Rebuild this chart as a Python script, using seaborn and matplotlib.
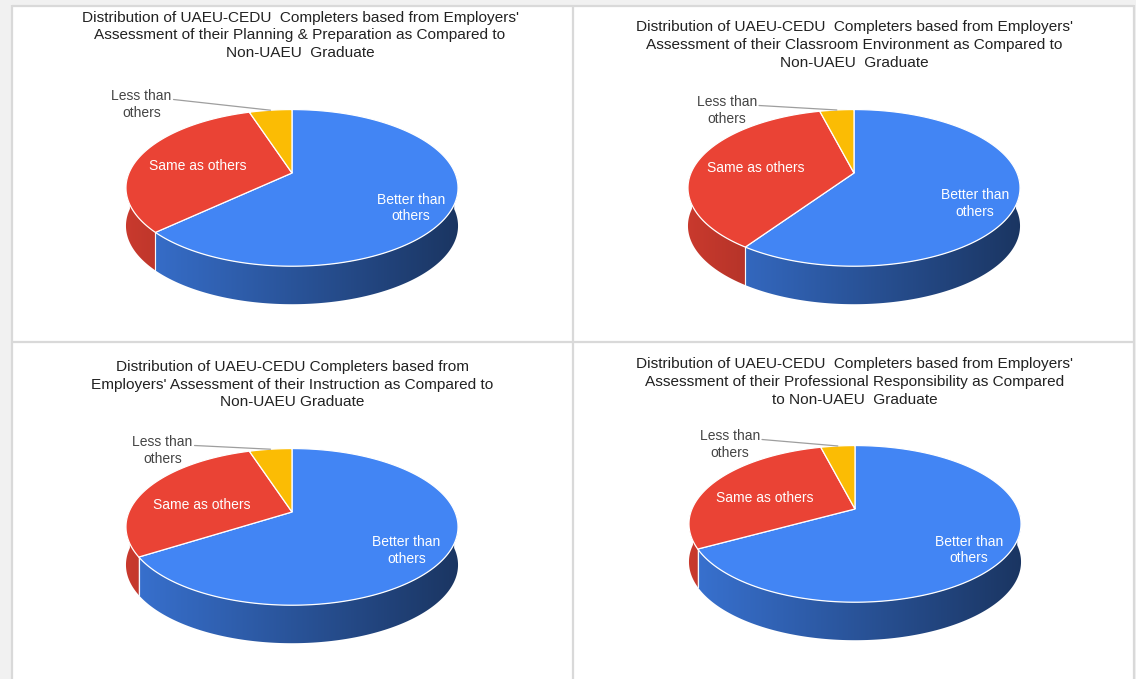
import numpy as np
import matplotlib
matplotlib.use("Agg")
import matplotlib.pyplot as plt
import matplotlib.transforms as mtransforms
from matplotlib.path import Path
from matplotlib.patches import Rectangle, Polygon
import seaborn as sns

# ---------------- data ----------------
categories = ["Better than others", "Same as others", "Less than others"]
label_texts = ["Better than\nothers", "Same as others", "Less than\nothers"]
planning = [63, 32, 5]
classroom = [59.5, 36.5, 4]
instruction = [66, 29, 5]
professional = [67, 29, 4]
titles = [
    "Distribution of UAEU-CEDU  Completers based from Employers'\nAssessment of their Planning & Preparation as Compared to\nNon-UAEU  Graduate",
    "Distribution of UAEU-CEDU  Completers based from Employers'\nAssessment of their Classroom Environment as Compared to\nNon-UAEU  Graduate",
    "Distribution of UAEU-CEDU Completers based from\nEmployers' Assessment of their Instruction as Compared to\nNon-UAEU Graduate",
    "Distribution of UAEU-CEDU  Completers based from Employers'\nAssessment of their Professional Responsibility as Compared\nto Non-UAEU  Graduate",
]
series = [planning, classroom, instruction, professional]

# ---------------- style ----------------
sns.set_theme(style="white")
plt.rcParams["font.family"] = ["Liberation Sans", "DejaVu Sans"]
colors = sns.color_palette(["#4285F4", "#EA4335", "#FBBC04"])

W, H = 1136, 679
fig = plt.figure(figsize=(W / 100, H / 100), dpi=100)
ax = fig.add_axes([0, 0, 1, 1])
ax.set_xlim(0, W)
ax.set_ylim(H, 0)
ax.axis("off")

# background frame
ax.add_patch(Rectangle((0, 0), 10.5, H, color="#f1f1f1", zorder=0, lw=0))
ax.add_patch(Rectangle((0, 0), W, 4.5, color="#f1f1f1", zorder=0, lw=0))
ax.add_patch(Rectangle((1134, 0), 2, H, color="#f1f1f1", zorder=0, lw=0))
border = dict(color="#d9d9d9", lw=1.6, zorder=1, solid_capstyle="butt")
ax.plot([11.5, 11.5], [5, H], **border)
ax.plot([11.5, 1134], [5.5, 5.5], **border)
ax.plot([573, 573], [5, H], **border)
ax.plot([11.5, 1134], [342, 342], **border)
ax.plot([1133.5, 1133.5], [5, H], **border)


class Persp(mtransforms.Transform):
    """Perspective projection of the unit disc (u, v) onto the page."""
    input_dims = 2
    output_dims = 2
    is_separable = False
    has_inverse = False

    def __init__(self, cx, cy, R, A, k):
        super().__init__()
        self.cx, self.cy, self.R, self.A, self.k = cx, cy, R, A, k

    def transform_non_affine(self, values):
        values = np.asarray(values, float).reshape(-1, 2)
        u, v = values[:, 0], values[:, 1]
        d = 1.0 + self.k * v
        return np.column_stack([self.cx + self.R * u / d,
                                self.cy - self.A * v / d])

    def transform_path_non_affine(self, path):
        pts = []
        for seg, code in path.iter_bezier():
            cp = seg.control_points
            if len(cp) == 1:
                pts.append(np.asarray(cp, float))
            else:
                pts.append(seg(np.linspace(0, 1, 40))[1:])
        xy = self.transform_non_affine(np.vstack(pts))
        return Path(np.vstack([xy, xy[:1]]), closed=True)


# layout (page pixels)
pies = [(292, 173), (854, 173), (292, 512), (855, 509)]  # apex positions
R, A, K, DEPTH = 163, 75.5, 0.19, 38
title_pos = [(300, 35.5), (854, 45), (292.5, 384.5), (855, 382)]
better_pos = [(411, 208), (975, 203.5), (406.5, 550.5), (969, 550)]
same_pos = [(198, 166.5), (756, 168), (201.5, 505), (764.5, 498)]
less_pos = [(141.5, 104.5), (727, 110.5), (162.5, 450.5), (730, 444.5)]

shade = np.linspace(0.86, 0.40, 256)

for i, vals in enumerate(series):
    cx, cy = pies[i]
    persp = Persp(cx, cy, R, A, K)
    wedges, _ = ax.pie(vals, colors=colors, startangle=90, counterclock=False,
                       frame=True,
                       wedgeprops=dict(edgecolor="white", linewidth=0.9))
    for w in wedges:
        w.set_transform(persp + ax.transData)
        w.set_zorder(4)

    # side walls (front half of the rim), shaded left -> right
    x0, x1 = cx - R * 1.03, cx + R * 1.03
    for w, col in zip(wedges, colors):
        t = np.deg2rad(np.linspace(w.theta1, w.theta2, 600))
        tt = t[np.sin(t) < 0.03]
        if len(tt) < 2:
            continue
        top = persp.transform(np.column_stack([np.cos(tt), np.sin(tt)]))
        bot = top + [0, DEPTH]
        poly = Polygon(np.vstack([top, bot[::-1]]), closed=True,
                       facecolor="none", edgecolor="none")
        ax.add_patch(poly)
        grad = np.clip(np.array(col)[None, None, :] * shade[None, :, None], 0, 1)
        im = ax.imshow(grad, extent=(x0, x1, cy + 200, cy - 20),
                       aspect="auto", interpolation="bilinear", zorder=2)
        im.set_clip_path(poly)
        for ang in (w.theta1, w.theta2):
            a = np.deg2rad(ang)
            if np.sin(a) < -0.05:
                p0 = persp.transform([[np.cos(a), np.sin(a)]])[0]
                ax.plot([p0[0], p0[0]], [p0[1], p0[1] + DEPTH], color="white",
                        lw=0.8, alpha=0.8, zorder=3)

    # labels
    ax.text(*title_pos[i], titles[i], fontsize=11.1, color="#222222",
            ha="center", va="center", linespacing=1.32, zorder=6)
    ax.text(*better_pos[i], label_texts[0], fontsize=10, color="white",
            ha="center", va="center", linespacing=1.22, zorder=6)
    ax.text(*same_pos[i], label_texts[1], fontsize=10, color="white",
            ha="center", va="center", zorder=6)
    ax.text(*less_pos[i], label_texts[2], fontsize=10, color="#444444",
            ha="center", va="center", linespacing=1.22, zorder=6)
    yw = wedges[2]
    mid = np.deg2rad((yw.theta1 + yw.theta2) / 2)
    end = persp.transform([[np.cos(mid), np.sin(mid)]])[0]
    lx, ly = less_pos[i]
    ax.plot([lx + 32, end[0]], [ly - 5, end[1]], color="#9e9e9e", lw=0.9,
            zorder=5)

ax.set_xlim(0, W)
ax.set_ylim(H, 0)
ax.set_aspect("auto")
fig.savefig("out.png", dpi=100, facecolor="white")
